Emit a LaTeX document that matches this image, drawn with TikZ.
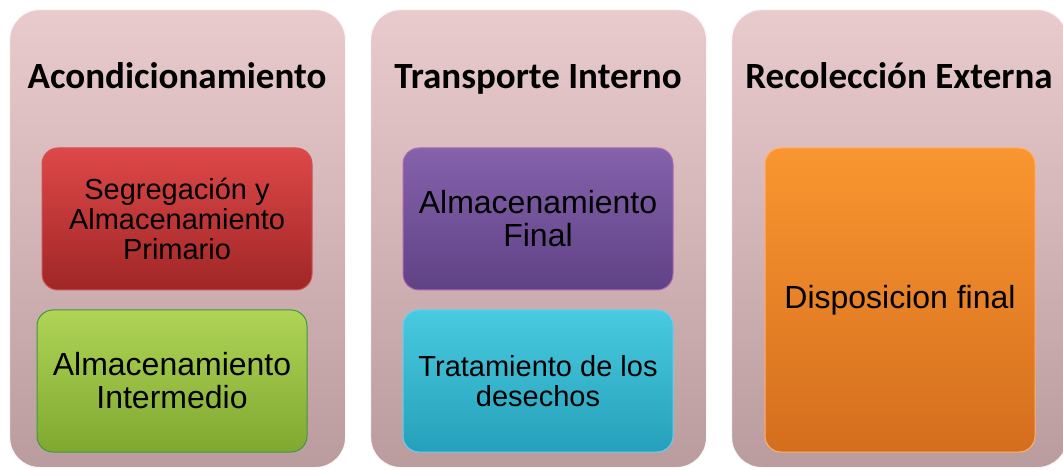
\documentclass[tikz,border=0pt]{standalone}
\usepackage{fontspec}
\setmainfont{Liberation Sans}
\newfontfamily\headfont{Carlito}
\definecolor{pantop}{RGB}{234,203,205}
\definecolor{panbot}{RGB}{186,156,159}
\tikzset{
  x=1pt,y=-1pt,
  panel/.style={rounded corners=30pt, top color=pantop, bottom color=panbot, draw=white!85!pantop, line width=1.2pt, minimum width=336pt, minimum height=458pt, anchor=north west, inner sep=0pt},
  heading/.style={font=\headfont\bfseries\fontsize{37}{40}\selectfont, text=black, inner sep=0pt, anchor=base},
  box/.style={rounded corners=16pt, minimum width=270pt, minimum height=142pt, align=center, inner sep=0pt, text=black, draw=white!40!#1, line width=1pt},
  bigtxt/.style={font=\fontsize{32}{33}\selectfont},
  smalltxt/.style={font=\fontsize{29}{30}\selectfont},
}
\begin{document}
\begin{tikzpicture}
\useasboundingbox (0,0) rectangle (1063,470);
\node[panel] (p1) at (9,9) {};
\node[panel] (p2) at (370,9) {};
\node[panel] (p3) at (731,9) {};
\node[heading] (h1) at (177,89) {Acondicionamiento};
\node[heading] (h2) at (538,89) {Transporte Interno};
\node[heading] (h3) at (899,89) {Recolección Externa};
\node[box=red!80!black, top color={rgb,255:red,222;green,72;blue,72}, bottom color={rgb,255:red,160;green,38;blue,38}, smalltxt] (b1) at (177,219) {Segregación y\\Almacenamiento\\Primario};
\node[box=green!60!black, top color={rgb,255:red,175;green,212;blue,86}, bottom color={rgb,255:red,128;green,168;blue,48}, bigtxt] (b2) at (172,381) {Almacenamiento\\Intermedio};
\node[box=violet, top color={rgb,255:red,132;green,98;blue,172}, bottom color={rgb,255:red,96;green,66;blue,134}, bigtxt] (b3) at (538,219) {Almacenamiento\\Final};
\node[box=cyan, top color={rgb,255:red,72;green,202;blue,224}, bottom color={rgb,255:red,38;green,160;blue,186}, smalltxt] (b4) at (538,381) {Tratamiento de los\\desechos};
\node[box=orange, minimum height=304pt, top color={rgb,255:red,250;green,150;blue,48}, bottom color={rgb,255:red,212;green,110;blue,30}, bigtxt] (b5) at (900,300) {Disposicion final};
\end{tikzpicture}
\end{document}
